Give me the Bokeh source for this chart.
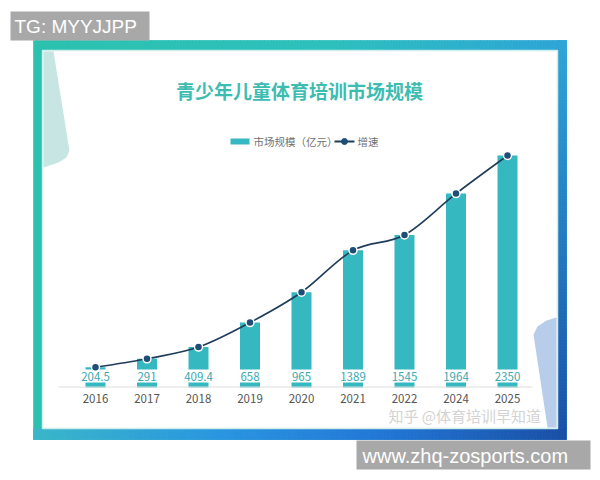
from bokeh.plotting import figure
from bokeh.models import Range1d
from bokeh.core.properties import value
from bokeh.embed import file_html
from bokeh.resources import INLINE

# ---------------- data ----------------
years = ["2016", "2017", "2018", "2019", "2020", "2021", "2022", "2024", "2025"]
market = [204.5, 291, 409.4, 658, 965, 1389, 1545, 1964, 2350]
value_labels = ["204.5", "291", "409.4", "658", "965", "1389", "1545", "1964", "2350"]
title_text = "青少年儿童体育培训市场规模"
legend_bar = "市场规模（亿元）"
legend_line = "增速"
watermark = "知乎 @体育培训早知道"
tag_tl = "TG: MYYJJPP"
tag_br = "www.zhq-zosports.com"

# ---------------- layout constants ----------------
W, H = 600, 480
X0_PX, STEP_PX = 95, 51.5          # centre of first bar, bar spacing
BASE_PX, TOP_PX = 387, 155         # baseline and top of tallest bar
PX_PER_UNIT = (BASE_PX - TOP_PX) / 2350.0

CJK = value("Noto Sans CJK SC")
SANS = value("Liberation Sans")

BAR_C = "#36b8c0"
LINE_C = "#1f3d5a"
DOT_C = "#1e4d78"

p = figure(width=W, height=H, x_range=Range1d(0, W), y_range=Range1d(H, 0),
           output_backend="svg", toolbar_location=None,
           x_axis_location=None, y_axis_location=None, min_border=0, title=None)
p.grid.visible = False
p.outline_line_color = None
p.background_fill_color = "white"
p.border_fill_color = "white"

p.extra_x_ranges = {"idx": Range1d(-X0_PX / STEP_PX, (W - X0_PX) / STEP_PX)}
p.extra_y_ranges = {"val": Range1d(-(H - BASE_PX) / PX_PER_UNIT, BASE_PX / PX_PER_UNIT)}


def hx(c):
    return tuple(int(c[i:i + 2], 16) for i in (1, 3, 5))


def grad(stops, t):
    for (a, ca), (b, cb) in zip(stops, stops[1:]):
        if a <= t <= b:
            f = 0 if b == a else (t - a) / (b - a)
            A, B = hx(ca), hx(cb)
            return "#%02x%02x%02x" % tuple(round(A[k] + (B[k] - A[k]) * f) for k in range(3))
    return stops[-1][1]


# ---------------- frame with gradient border ----------------
OL, OR, OT, OB = 33, 566, 40, 439
IL, IR, IT, IB = 42, 557, 50, 428
STEP = 3

top_stops = [(0, "#2cc1ae"), (0.55, "#2ec0bd"), (1.0, "#2ea4d8")]
L, R, C = [], [], []
x = OL
while x < OR:
    L.append(x); R.append(min(x + STEP + 1, OR)); C.append(grad(top_stops, (x - OL) / (OR - OL)))
    x += STEP
p.quad(left=L, right=R, top=[OT] * len(L), bottom=[OB] * len(L), fill_color=C,
       line_color=C, line_width=0.6)

bot_stops = [(0, "#3ab6c9"), (0.35, "#2a95e0"), (0.65, "#2377d6"), (1.0, "#1a4fa5")]
L, R, C = [], [], []
x = OL
while x < OR:
    L.append(x); R.append(min(x + STEP + 1, OR)); C.append(grad(bot_stops, (x - OL) / (OR - OL)))
    x += STEP
p.quad(left=L, right=R, top=[IB] * len(L), bottom=[OB] * len(L), fill_color=C,
       line_color=C, line_width=0.6)

right_stops = [(0, "#2fa5d7"), (1.0, "#1b50a7")]
T, B, C = [], [], []
y = OT
while y < IB:
    T.append(y); B.append(min(y + STEP + 1, IB)); C.append(grad(right_stops, (y - OT) / (OB - OT)))
    y += STEP
p.quad(left=[IR] * len(T), right=[OR] * len(T), top=T, bottom=B, fill_color=C,
       line_color=C, line_width=0.6)

p.quad(left=[IL], right=[IR], top=[IT], bottom=[IB], fill_color="white",
       line_color="#cdeeea", line_width=1.5)

# decorative shapes
p.patch(x=[43, 53, 67, 69, 66, 58, 43], y=[51, 51, 138, 150, 157, 162, 167],
        fill_color="#c6e5e3", line_color=None)
p.patch(x=[533, 537, 546, 556, 556, 547], y=[334, 326, 320, 317, 427, 427],
        fill_color="#b8cdea", line_color=None)

# ---------------- title & legend ----------------
p.text(x=[299], y=[90], text=[title_text], text_font=CJK, text_font_size="19px",
       text_font_style="bold", text_color="#3dbcb2", text_align="center", text_baseline="middle")

p.quad(left=[230], right=[249], top=[138], bottom=[144], fill_color=BAR_C, line_color=None)
p.text(x=[253], y=[141], text=[legend_bar], text_font=CJK, text_font_size="10.5px",
       text_color="#707070", text_align="left", text_baseline="middle")
p.segment(x0=[334], y0=[141], x1=[354], y1=[141], line_color=LINE_C, line_width=2)
p.scatter(x=[344], y=[141], size=6, fill_color=DOT_C, line_color=DOT_C)
p.text(x=[357], y=[141], text=[legend_line], text_font=CJK, text_font_size="10.5px",
       text_color="#707070", text_align="left", text_baseline="middle")

# ---------------- bars ----------------
n = len(market)
idx = list(range(n))
bar_w = 20 / STEP_PX
p.vbar(x=idx, top=market, bottom=0, width=bar_w, fill_color=BAR_C, line_color=None,
       x_range_name="idx", y_range_name="val")

# axis line
p.segment(x0=[58], y0=[386.5], x1=[532], y1=[386.5], line_color="#dddddd", line_width=1)

# white boxes behind value labels
box_w = 24 / STEP_PX
p.quad(left=[i - box_w / 2 for i in idx], right=[i + box_w / 2 for i in idx],
       top=[369] * n, bottom=[382] * n, fill_color="white", line_color=None,
       x_range_name="idx")
p.text(x=idx, y=[375.5] * n, text=value_labels, text_font=CJK, text_font_size="11.5px",
       text_color="#3aa9b0", text_align="center", text_baseline="middle", x_range_name="idx")

# year labels
p.text(x=idx, y=[398] * n, text=years, text_font=CJK, text_font_size="11.5px",
       text_color="#555555", text_align="center", text_baseline="middle", x_range_name="idx")

# ---------------- smooth line ----------------
xs = idx
ys = market
bx0, by0, bx1, by1, c0x, c0y, c1x, c1y = [], [], [], [], [], [], [], []
for i in range(n - 1):
    a = i - 1 if i > 0 else i
    d = i + 2 if i + 2 < n else i + 1
    bx0.append(xs[i]); by0.append(ys[i]); bx1.append(xs[i + 1]); by1.append(ys[i + 1])
    c0x.append(xs[i] + (xs[i + 1] - xs[a]) / 6); c0y.append(ys[i] + (ys[i + 1] - ys[a]) / 6)
    c1x.append(xs[i + 1] - (xs[d] - xs[i]) / 6); c1y.append(ys[i + 1] - (ys[d] - ys[i]) / 6)
p.bezier(x0=bx0, y0=by0, x1=bx1, y1=by1, cx0=c0x, cy0=c0y, cx1=c1x, cy1=c1y,
         line_color=LINE_C, line_width=1.6, x_range_name="idx", y_range_name="val")
p.scatter(x=idx, y=market, size=8, fill_color=DOT_C, line_color="white", line_width=1.5,
          x_range_name="idx", y_range_name="val")

# ---------------- watermark & tags ----------------
p.text(x=[388], y=[415], text=[watermark], text_font=CJK, text_font_size="15px",
       text_color="#d3d3d3", text_align="left", text_baseline="middle")

p.quad(left=[10], right=[149], top=[11], bottom=[40], fill_color="#a8a8a8", line_color=None)
p.text(x=[14], y=[26], text=[tag_tl], text_font=SANS, text_font_size="19px",
       text_color="white", text_align="left", text_baseline="middle")

p.quad(left=[356], right=[590], top=[440], bottom=[469], fill_color="#a8a8a8", line_color=None)
p.text(x=[362], y=[455], text=[tag_br], text_font=SANS, text_font_size="20px",
       text_color="white", text_align="left", text_baseline="middle")

open("out.html", "w").write(file_html(p, INLINE))
